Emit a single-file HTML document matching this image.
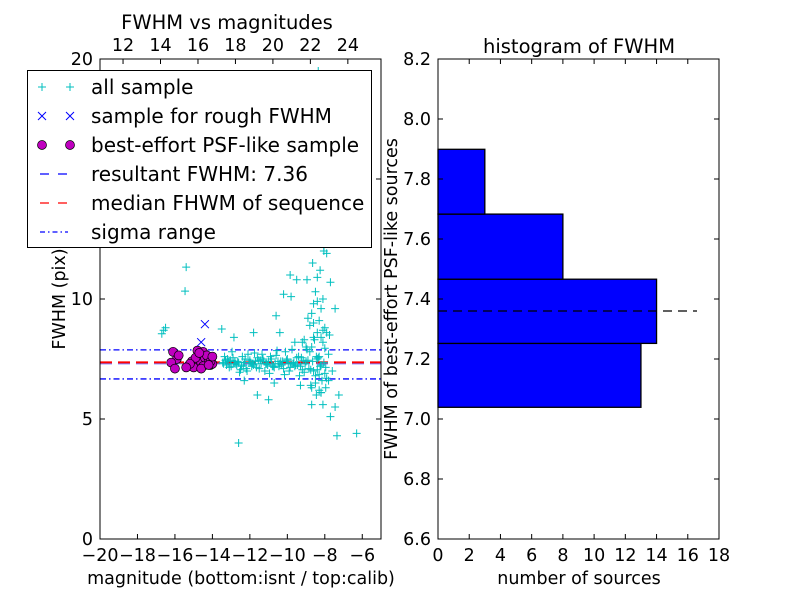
<!DOCTYPE html>
<html><head><meta charset="utf-8"><style>
body{margin:0;background:#fff;}
svg text{font-family:"DejaVu Sans","Liberation Sans",sans-serif;fill:#000;}
</style></head><body>
<svg id="chart" width="800" height="600" xmlns="http://www.w3.org/2000/svg"></svg>
<script>
// ---- data: scatter panel ----
const allMag = [-16.6,-16.5,-16.7,-15.4,-15.46,-13.5,-12.85,-11.6,-11.0,-12.6,-10.6,-10.4,-10.2,-9.8,-9.85,-9.5,-8.95,-8.4,-7.7,-7.45,-7.9,-7.35,-6.3,-7.7,-7.45,-7.25,-8.7,-8.1,
 -13.4,-13.2,-13.0,-12.8,-12.6,-12.4,-12.2,-12.0,-11.8,-11.6,-11.4,-11.2,-11.0,-10.8,-10.6,-10.4,-10.2,-10.0,-9.8,-9.6,-9.4,-9.2,-9.0,-8.8,-8.6,-8.4,-8.2,-8.0,-7.8,
 -13.3,-13.1,-12.9,-12.7,-12.5,-12.3,-12.1,-11.9,-11.7,-11.5,-11.3,-11.1,-10.9,-10.7,-10.5,-10.3,-10.1,-9.9,-9.7,-9.5,-9.3,-9.1,-8.9,-8.7,-8.5,-8.3,-8.1,-7.9,
 -13.35,-12.95,-12.55,-12.15,-11.75,-11.35,-10.95,-10.55,-10.15,-9.75,-9.35,-8.95,-8.55,-8.15,-7.75,
 -13.45,-13.25,-13.05,-12.85,-12.65,-12.45,-12.25,-12.05,-11.85,-11.65,-11.45,-11.25,-11.05,-10.85,-10.65,-10.45,-10.25,-10.05,-9.85,-9.65,-9.45,-9.25,-9.05,-8.85,-8.65,-8.45,-8.25,-8.05,
 -13.15,-12.75,-12.35,-11.95,-11.55,-11.15,-10.75,-10.35,-9.95,-9.55,-9.15,-8.75,-8.35,-7.95,
 -8.8,-8.7,-8.6,-8.5,-8.4,-8.3,-8.2,-8.1,-8.0,-8.9,-8.45,-8.25,-8.05,-8.35,-8.65,-8.15,-8.55,-8.75,-7.95,-8.3,-8.5,-8.2,
 -8.6,-8.4,-8.2,-8.0,-8.7,-8.3,-8.1,-8.5,-9.2,-9.0,-8.9,-7.6,-7.8,-8.35,-8.05,-8.25,-7.9,-8.45,
 -9.6,-9.1,-8.6,-8.1,-10.7,-11.8,-12.3,-9.3,-8.7,-8.2,-8.0,-8.4,-8.3];
const allFwhm = [8.7,8.8,8.55,11.33,10.33,8.75,8.4,6.0,5.8,4.0,9.3,8.6,10.2,10.1,11.0,10.8,10.8,10.9,10.7,9.6,11.9,4.3,4.4,5.1,5.5,6.0,5.6,5.6,
 7.3,7.5,7.2,7.4,7.35,7.6,7.1,7.45,7.25,7.55,7.3,7.0,7.4,7.2,7.65,7.3,7.1,7.5,7.35,7.2,7.6,7.05,7.4,7.8,7.0,7.5,7.25,6.9,7.7,
 7.45,7.15,7.55,7.25,7.05,7.35,7.7,7.2,7.4,7.1,7.5,7.3,7.6,7.15,7.4,7.25,7.8,7.0,7.3,7.55,7.2,6.95,7.45,8.0,6.8,7.6,8.2,6.7,
 7.6,7.8,6.95,7.0,7.75,7.7,6.9,7.85,6.85,7.9,6.8,7.9,8.3,6.6,8.5,
 7.35,7.25,7.45,7.3,7.4,7.2,7.5,7.35,7.3,7.15,7.45,7.4,7.25,7.5,7.3,7.2,7.4,7.45,7.15,7.35,7.25,7.55,7.3,7.1,7.4,7.6,7.2,7.35,
 7.4,7.3,7.25,7.35,7.45,7.3,7.2,7.4,7.3,7.25,7.45,7.05,7.55,7.15,
 8.9,9.4,9.8,10.3,8.6,9.1,9.6,10.0,8.8,12.5,13.2,14.0,12.0,15.0,11.5,16.3,13.8,6.4,6.3,6.2,6.5,6.1,
 9.0,9.9,8.4,12.8,14.6,17.0,18.2,15.6,8.2,8.0,9.2,7.0,6.6,19.5,12.2,11.2,8.6,6.0,
 8.2,8.3,8.4,8.7,6.5,8.6,6.6,6.4,6.3,6.1,7.95,7.05,6.85];
const roughMag = [-14.4,-14.6];
const roughFwhm = [8.95,8.2];
const psfMag = [-16.1,-15.9,-15.8,-16.2,-16.0,-15.3,-15.1,-14.9,-14.7,-14.5,-14.3,-14.1,-14.8,-14.6,-14.4,-14.2,-14.0,-15.0,-14.9,-14.5,-14.3,-15.2,-14.7,-14.1,-14.6,-15.4,-14.0,-14.2];
const psfFwhm = [7.8,7.5,7.65,7.35,7.1,7.2,7.4,7.3,7.6,7.8,7.5,7.25,7.85,7.35,7.55,7.45,7.3,7.15,7.55,7.2,7.65,7.3,7.75,7.4,7.1,7.15,7.6,7.25];
const resultantFwhm = 7.36;
const medianFwhm = 7.36;
const sigmaLow = 6.67, sigmaHigh = 7.88;
const magOffset = 30.77;
const xTicksLeft = [-20,-18,-16,-14,-12,-10,-8,-6];
const xTickLabelsLeft = ["\u221220","\u221218","\u221216","\u221214","\u221212","\u221210","\u22128","\u22126"];
const topTicks = [12,14,16,18,20,22,24];
const yTicksLeft = [0,5,10,15,20];
// ---- data: histogram panel ----
const binEdges = [7.039,7.252,7.466,7.683,7.899];
const binCounts = [13,14,8,3];
const xTicksRight = [0,2,4,6,8,10,12,14,16,18];
const yTicksRight = [6.6,6.8,7.0,7.2,7.4,7.6,7.8,8.0,8.2];

const NS="http://www.w3.org/2000/svg";
const svg=document.getElementById('chart');
const TF=17.5, LF=17.5, TT=19.5, LG=20;
function el(tag,attrs,parent){const e=document.createElementNS(NS,tag);for(const k in attrs)e.setAttribute(k,attrs[k]);(parent||svg).appendChild(e);return e;}
function txt(s,attrs,parent){const t=el('text',attrs,parent);t.textContent=s;return t;}

// left axes
const L={x0:100,x1:381,y0:539,y1:59};
const lx=v=>L.x0+(v+20)/15*(L.x1-L.x0);
const ly=v=>L.y0-v/20*(L.y0-L.y1);
const gl=el('g',{});


const sl1=el('line',{x1:L.x0,x2:L.x1,y1:ly(sigmaHigh),y2:ly(sigmaHigh),stroke:'#0000ff','stroke-width':1.3,'stroke-dasharray':'6,3,1.5,3'},gl);


const sl2=el('line',{x1:L.x0,x2:L.x1,y1:ly(sigmaLow),y2:ly(sigmaLow),stroke:'#0000ff','stroke-width':1.3,'stroke-dasharray':'6,3,1.5,3'},gl);


const rl=el('line',{x1:L.x0,x2:L.x1,y1:ly(resultantFwhm)+1,y2:ly(resultantFwhm)+1,stroke:'#0000ff','stroke-width':2,'stroke-dasharray':'12,6','opacity':0.5},gl);


const ml=el('line',{x1:L.x0,x2:L.x1,y1:ly(medianFwhm),y2:ly(medianFwhm),stroke:'#ff0000','stroke-width':2,'stroke-dasharray':'12,6'},gl);


for(let i=0;i<allMag.length;i++){
  const x=lx(allMag[i]),y=ly(allFwhm[i]);
  const p=el('path',{d:`M${x-4},${y}H${x+4}M${x},${y-4}V${y+4}`,stroke:'#00bfbf','stroke-width':1},gl);
  
  
}
for(let i=0;i<roughMag.length;i++){
  const x=lx(roughMag[i]),y=ly(roughFwhm[i]);
  const p=el('path',{d:`M${x-4},${y-4}L${x+4},${y+4}M${x-4},${y+4}L${x+4},${y-4}`,stroke:'#0000ff','stroke-width':1},gl);
  
  
}
for(let i=0;i<psfMag.length;i++){
  const c=el('circle',{cx:lx(psfMag[i]),cy:ly(psfFwhm[i]),r:4.5,fill:'#bf00bf',stroke:'#000','stroke-width':0.7},gl);
  
  
}
const lf=el('rect',{x:L.x0,y:L.y1,width:L.x1-L.x0,height:L.y0-L.y1,fill:'none',stroke:'#000','stroke-width':1},gl);


xTicksLeft.forEach((v,i)=>{const x=lx(v);
  el('path',{d:`M${x},${L.y0}v-5`,stroke:'#000'},gl);
  const t=txt(xTickLabelsLeft[i],{x:x,y:L.y0+22,'font-size':TF,'text-anchor':'middle'},gl);
  
  
});
topTicks.forEach(v=>{const x=lx(v-magOffset);
  el('path',{d:`M${x},${L.y1}v5`,stroke:'#000'},gl);
  const t=txt(String(v),{x:x,y:L.y1-8,'font-size':TF,'text-anchor':'middle'},gl);
  
  
});
yTicksLeft.forEach(v=>{const y=ly(v);
  el('path',{d:`M${L.x0},${y}h5M${L.x1},${y}h-5`,stroke:'#000'},gl);
  const t=txt(String(v),{x:L.x0-7,y:y+6,'font-size':TF,'text-anchor':'end'},gl);
  
  
});
const t1=txt('FWHM vs magnitudes',{x:227,y:29,'font-size':TT,'text-anchor':'middle'},gl);


const t2=txt('magnitude (bottom:isnt / top:calib)',{x:241,y:584,'font-size':LF,'text-anchor':'middle'},gl);


const t3=txt('FWHM (pix)',{x:0,y:0,'font-size':LF,'text-anchor':'middle',transform:'translate(65,299) rotate(-90)'},gl);



// legend
const lg=el('g',{});


el('rect',{x:27.5,y:70.5,width:344,height:177,fill:'#fff',stroke:'#000','stroke-width':1},lg);
const legItems=['all sample','sample for rough FWHM','best-effort PSF-like sample','resultant FWHM: 7.36','median FHWM of sequence','sigma range'];
legItems.forEach((s,i)=>{const y=87+i*29;
  const a=42,b=70;
  if(i===0){[a,b].forEach(x=>el('path',{d:`M${x-4},${y}H${x+4}M${x},${y-4}V${y+4}`,stroke:'#00bfbf'},lg));}
  if(i===1){[a,b].forEach(x=>el('path',{d:`M${x-4},${y-4}L${x+4},${y+4}M${x-4},${y+4}L${x+4},${y-4}`,stroke:'#0000ff'},lg));}
  if(i===2){[a,b].forEach(x=>el('circle',{cx:x,cy:y,r:4.5,fill:'#bf00bf',stroke:'#000','stroke-width':0.7},lg));}
  if(i===3)el('line',{x1:40,x2:68,y1:y,y2:y,stroke:'#0000ff','stroke-width':1.3,'stroke-dasharray':'9,9'},lg);
  if(i===4)el('line',{x1:40,x2:68,y1:y,y2:y,stroke:'#ff0000','stroke-width':1.3,'stroke-dasharray':'9,9'},lg);
  if(i===5)el('line',{x1:40,x2:68,y1:y,y2:y,stroke:'#0000ff','stroke-width':1.3,'stroke-dasharray':'5,3,1.5,3'},lg);
  const t=txt(s,{x:91,y:y+7,'font-size':LG},lg);
  
  
});

// right panel
const R={x0:438,x1:719,y0:539,y1:59};
const rx=v=>R.x0+v/18*(R.x1-R.x0);
const ry=v=>R.y0-(v-6.6)/1.6*(R.y0-R.y1);
const gr=el('g',{});


binCounts.forEach((c,i)=>{
  const b=el('rect',{x:rx(0),y:ry(binEdges[i+1]),width:rx(c)-rx(0),height:ry(binEdges[i])-ry(binEdges[i+1]),fill:'#0000ff',stroke:'#000','stroke-width':1.3},gr);
  
  
});
const hl=el('line',{x1:rx(0),x2:697,y1:ry(resultantFwhm),y2:ry(resultantFwhm),stroke:'#000','stroke-width':1.3,'stroke-dasharray':'9,6'},gr);


el('rect',{x:R.x0,y:R.y1,width:R.x1-R.x0,height:R.y0-R.y1,fill:'none',stroke:'#000'},gr);
xTicksRight.forEach(v=>{const x=rx(v);
  el('path',{d:`M${x},${R.y0}v-5M${x},${R.y1}v5`,stroke:'#000'},gr);
  const t=txt(String(v),{x:x,y:R.y0+22,'font-size':TF,'text-anchor':'middle'},gr);
  
  
});
yTicksRight.forEach(v=>{const y=ry(v);
  el('path',{d:`M${R.x0},${y}h5M${R.x1},${y}h-5`,stroke:'#000'},gr);
  const t=txt(v.toFixed(1),{x:R.x0-7,y:y+6,'font-size':TF,'text-anchor':'end'},gr);
  
  
});
const t4=txt('histogram of FWHM',{x:579,y:53,'font-size':TT,'text-anchor':'middle'},gr);


const t5=txt('number of sources',{x:579,y:584,'font-size':LF,'text-anchor':'middle'},gr);


const t6=txt('FWHM of best-effort PSF-like sources',{x:0,y:0,'font-size':LF,'text-anchor':'middle',transform:'translate(397,299) rotate(-90)'},gr);


</script>
</body></html>
